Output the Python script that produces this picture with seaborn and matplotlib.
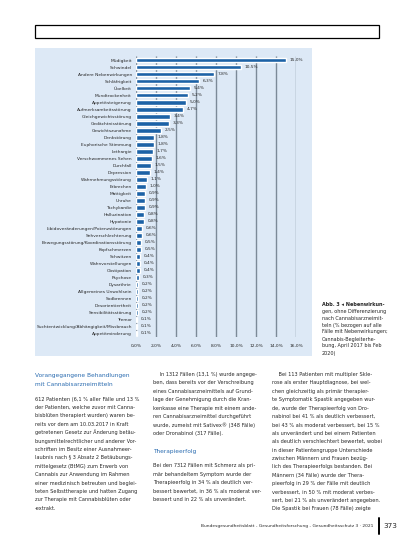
import matplotlib
matplotlib.use("Agg")
import matplotlib.pyplot as plt
import matplotlib.patches as patches
import seaborn as sns
import pandas as pd

# Nebenwirkungen (% bezogen auf alle Fälle mit Nebenwirkungen)
labels = [
    "Müdigkeit", "Schwindel", "Andere Nebenwirkungen", "Schläfrigkeit",
    "Übelkeit", "Mundtrockenheit", "Appetitsteigerung", "Aufmerksamkeitsstörung",
    "Gleichgewichtsstörung", "Gedächtnisstörung", "Gewichtszunahme", "Denkstörung",
    "Euphorische Stimmung", "Lethargie", "Verschwommenes Sehen", "Durchfall",
    "Depression", "Wahrnehmungsstörung", "Erbrechen", "Mattigkeit",
    "Unruhe", "Tachykardie", "Halluzination", "Hypotonie",
    "Libidoveränderungen/Potenzstörungen", "Sehverschlechterung",
    "Bewegungsstörung/Koordinationsstörung", "Kopfschmerzen",
    "Schwitzen", "Wahnvorstellungen", "Obstipation", "Psychose",
    "Dysarthrie", "Allgemeines Unwohlsein", "Sodbrennen", "Desorientiertheit",
    "Sensibilitätsstörung", "Tremor", "Suchtentwicklung/Abhängigkeit/Missbrauch",
    "Appetitminderung",
]
values = [
    15.0, 10.5, 7.8, 6.3, 5.4, 5.2, 5.0, 4.7, 3.4, 3.3,
    2.5, 1.8, 1.8, 1.7, 1.6, 1.5, 1.4, 1.1, 1.0, 0.9,
    0.9, 0.9, 0.8, 0.8, 0.6, 0.6, 0.5, 0.5, 0.4, 0.4,
    0.4, 0.3, 0.2, 0.2, 0.2, 0.2, 0.2, 0.1, 0.1, 0.1,
]
xticks = [0, 2, 4, 6, 8, 10, 12, 14, 16]

caption = [
    "Abb. 3 \u25c2 Nebenwirkun-",
    "gen, ohne Differenzierung",
    "nach Cannabisarzneimit-",
    "teln (% bezogen auf alle",
    "Fälle mit Nebenwirkungen;",
    "Cannabis-Begleiterhe-",
    "bung, April 2017 bis Feb",
    "2020)",
]

col1_head = ["Vorangegangene Behandlungen", "mit Cannabisarzneimitteln"]
col1 = [
    "612 Patienten (6,1 % aller Fälle und 13 %",
    "der Patienten, welche zuvor mit Canna-",
    "bisblüten therapiert wurden) waren be-",
    "reits vor dem am 10.03.2017 in Kraft",
    "getretenen Gesetz zur Änderung betäu-",
    "bungsmittelrechtlicher und anderer Vor-",
    "schriften im Besitz einer Ausnahmeer-",
    "laubnis nach § 3 Absatz 2 Betäubungs-",
    "mittelgesetz (BtMG) zum Erwerb von",
    "Cannabis zur Anwendung im Rahmen",
    "einer medizinisch betreuten und beglei-",
    "teten Selbsttherapie und hatten Zugang",
    "zur Therapie mit Cannabisblüten oder",
    "-extrakt.",
]
col2a = [
    "    In 1312 Fällen (13,1 %) wurde angege-",
    "ben, dass bereits vor der Verschreibung",
    "eines Cannabisarzneimittels auf Grund-",
    "lage der Genehmigung durch die Kran-",
    "kenkasse eine Therapie mit einem ande-",
    "ren Cannabisarzneimittel durchgeführt",
    "wurde, zumeist mit Sativex® (348 Fälle)",
    "oder Dronabinol (317 Fälle).",
]
col2_head = "Therapieerfolg"
col2b = [
    "Bei den 7312 Fällen mit Schmerz als pri-",
    "mär behandeltem Symptom wurde der",
    "Therapieerfolg in 34 % als deutlich ver-",
    "bessert bewertet, in 36 % als moderat ver-",
    "bessert und in 22 % als unverändert.",
]
col3 = [
    "    Bei 113 Patienten mit multipler Skle-",
    "rose als erster Hauptdiagnose, bei wel-",
    "chen gleichzeitig als primär therapier-",
    "te Symptomatik Spastik angegeben wur-",
    "de, wurde der Therapieerfolg von Dro-",
    "nabinol bei 41 % als deutlich verbessert,",
    "bei 43 % als moderat verbessert, bei 15 %",
    "als unverändert und bei einem Patienten",
    "als deutlich verschlechtert bewertet, wobei",
    "in dieser Patientengruppe Unterschiede",
    "zwischen Männern und Frauen bezüg-",
    "lich des Therapieerfolgs bestanden. Bei",
    "Männern (34 Fälle) wurde der Thera-",
    "pieerfolg in 29 % der Fälle mit deutlich",
    "verbessert, in 50 % mit moderat verbes-",
    "sert, bei 21 % als unverändert angegeben.",
    "Die Spastik bei Frauen (78 Fälle) zeigte",
]
footer = "Bundesgesundheitsblatt - Gesundheitsforschung - Gesundheitsschutz 3 · 2021"
page_no = "373"

W, H = 413, 550
BAR = "#1c62a6"
BG = "#dde9f6"
GRID = "#7c8a98"
HEAD = "#2b6cb0"

sns.set_style("white")
plt.rcParams["font.family"] = ["DejaVu Sans"]

fig = plt.figure(figsize=(W / 100, H / 100), dpi=100)


def fx(x):
    return x / W


def fy(y):
    return 1 - y / H


def txt(x, y, s, **kw):
    kw.setdefault("fontsize", 3.6)
    kw.setdefault("va", "center")
    fig.text(fx(x), fy(y), s, **kw)


# frame at top
fig.add_artist(patches.Rectangle((fx(35), fy(37.5)), fx(344), 12.5 / H,
                                 transform=fig.transFigure, fill=False,
                                 edgecolor="black", linewidth=0.9))

# chart panel: axes spanning the whole light blue box, bars drawn in a
# second axes on top with transparent background
bg_ax = fig.add_axes([fx(35), fy(356), fx(277), 308 / H])
bg_ax.set_facecolor(BG)
bg_ax.set_xticks([])
bg_ax.set_yticks([])
for sp in bg_ax.spines.values():
    sp.set_visible(False)

ax = fig.add_axes([fx(136), fy(336.8), fx(160), 280.3 / H])
ax.patch.set_alpha(0)
df = pd.DataFrame({"Nebenwirkung": labels, "Anteil": values})
ax.vlines(xticks, -0.5, len(labels) - 0.5, colors=GRID, linewidth=1.0, zorder=1)
sns.barplot(data=df, x="Anteil", y="Nebenwirkung", orient="h", color=BAR,
            saturation=1, width=0.7, ax=ax, zorder=3)
ax.set_xlim(0, 16)
ax.set_ylim(len(labels) - 0.5, -0.5)
ax.set_xticks(xticks)
ax.set_xticklabels([f"{t:.1f}%".replace(".", ",") for t in xticks], fontsize=3.2)
ax.tick_params(axis="x", length=1.5, width=0.5, color=GRID, pad=3.5)
ax.tick_params(axis="y", length=0, pad=3, labelsize=3.2)
ax.set_xlabel("")
ax.set_ylabel("")
ax.grid(False)
for sp in ax.spines.values():
    sp.set_visible(False)
for i, v in enumerate(values):
    ax.text(v + 0.35, i, f"{v:.1f}%".replace(".", ","), fontsize=3.1,
            va="center", ha="left", zorder=4)

# caption
for i, line in enumerate(caption):
    txt(322, 304 + i * 7, line, fontsize=3.5,
        fontweight="bold" if i == 0 else "normal")

# body text columns
step = 8.4
for i, line in enumerate(col1_head):
    txt(35, 376 + i * step, line, color=HEAD, fontsize=4.2)
for i, line in enumerate(col1):
    txt(35, 399 + i * step, line)
for i, line in enumerate(col2a):
    txt(153, 374.5 + i * step, line)
txt(153, 451, col2_head, color=HEAD, fontsize=4.2)
for i, line in enumerate(col2b):
    txt(153, 466 + i * step, line)
for i, line in enumerate(col3):
    txt(272, 374.5 + i * step, line)

# footer
txt(373, 526, footer, ha="right", fontsize=3.2)
fig.add_artist(plt.Line2D([fx(378.5), fx(378.5)], [fy(518), fy(534)],
                          transform=fig.transFigure, color="black", linewidth=1.4))
txt(383, 526, page_no, fontsize=5.2)

fig.savefig("out.png", dpi=100)
